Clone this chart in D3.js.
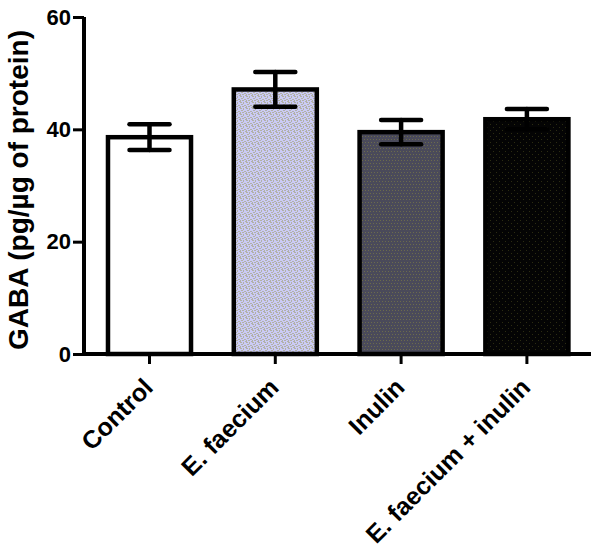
<!DOCTYPE html>
<html>
<head>
  <meta charset="utf-8">
  <script src="https://cdn.jsdelivr.net/npm/d3@7"></script>
  <style>
    body { margin: 0; background: #ffffff; }
    svg { display: block; }
    text { font-family: Arial, "Liberation Sans", sans-serif; font-weight: bold; fill: #000; }
  </style>
</head>
<body>
  <script>
    // Data
    const groups = ["Control", "E. faecium", "Inulin", "E. faecium + inulin"];
    const means = [38.6, 47.1, 39.5, 41.8];
    const errors = [2.3, 3.1, 2.15, 1.8];
    const yTicks = [0, 20, 40, 60];
    const yTitle = "GABA (pg/\u00b5g of protein)";

    const w = 600;
    const h = 560;

    const svg = d3.select("body")
      .append("svg")
      .attr("width", w)
      .attr("height", h);

    // Patterns for the bar fills
    const defs = svg.append("defs");

    function checker(id, base, dot, cells) {
      const p = defs.append("pattern")
        .attr("id", id)
        .attr("patternUnits", "userSpaceOnUse")
        .attr("width", 6)
        .attr("height", 6);
      p.append("rect").attr("width", 6).attr("height", 6).attr("fill", base);
      cells.forEach(function (c) {
        p.append("rect")
          .attr("x", c[0]).attr("y", c[1])
          .attr("width", c[2]).attr("height", c[3])
          .attr("fill", dot);
      });
    }

    checker("pat1", "#cbcbf5", "#b1b1a6",
      [[0, 0, 2, 1], [3, 0, 1, 2], [1, 2, 2, 1], [4, 3, 2, 1], [0, 4, 1, 2], [2, 4, 2, 1], [5, 5, 1, 1]]);
    checker("pat2", "#4a4a5a", "#6b6b4c",
      [[1, 1, 1, 1], [4, 1, 1, 1], [2, 4, 1, 1], [5, 4, 1, 1]]);
    checker("pat3", "#040404", "#2c2c12",
      [[1, 1, 1, 1], [4, 4, 1, 1]]);

    const fills = ["#ffffff", "url(#pat1)", "url(#pat2)", "url(#pat3)"];

    // Scales
    const xScale = d3.scaleBand()
      .domain(groups)
      .range([86.6, 589.8])
      .paddingInner(0.34)
      .paddingOuter(0.17);

    const yScale = d3.scaleLinear()
      .domain([0, 60])
      .range([354, 17]);

    const data = groups.map(function (g, i) {
      return { group: g, mean: means[i], err: errors[i], fill: fills[i] };
    });

    // Bars
    svg.selectAll("rect.bar")
      .data(data)
      .enter()
      .append("rect")
      .attr("class", "bar")
      .attr("x", function (d) { return xScale(d.group); })
      .attr("y", function (d) { return yScale(d.mean); })
      .attr("width", xScale.bandwidth())
      .attr("height", function (d) { return yScale(0) - yScale(d.mean); })
      .attr("fill", function (d) { return d.fill; })
      .attr("stroke", "#000")
      .attr("stroke-width", 4.5);

    // Error bars
    const capHalf = 20;
    const eb = svg.selectAll("g.err")
      .data(data)
      .enter()
      .append("g")
      .attr("class", "err")
      .attr("stroke", "#000")
      .attr("stroke-width", 4.5)
      .attr("stroke-linecap", "round");

    eb.append("line")
      .attr("x1", function (d) { return xScale(d.group) + xScale.bandwidth() / 2; })
      .attr("x2", function (d) { return xScale(d.group) + xScale.bandwidth() / 2; })
      .attr("y1", function (d) { return yScale(d.mean + d.err); })
      .attr("y2", function (d) { return yScale(d.mean - d.err); });

    eb.append("line")
      .attr("x1", function (d) { return xScale(d.group) + xScale.bandwidth() / 2 - capHalf; })
      .attr("x2", function (d) { return xScale(d.group) + xScale.bandwidth() / 2 + capHalf; })
      .attr("y1", function (d) { return yScale(d.mean + d.err); })
      .attr("y2", function (d) { return yScale(d.mean + d.err); });

    eb.append("line")
      .attr("x1", function (d) { return xScale(d.group) + xScale.bandwidth() / 2 - capHalf; })
      .attr("x2", function (d) { return xScale(d.group) + xScale.bandwidth() / 2 + capHalf; })
      .attr("y1", function (d) { return yScale(d.mean - d.err); })
      .attr("y2", function (d) { return yScale(d.mean - d.err); });

    // Y axis
    const yAxis = d3.axisLeft(yScale)
      .tickValues(yTicks)
      .tickSize(11)
      .tickPadding(2);

    const gy = svg.append("g")
      .attr("transform", "translate(84,0)")
      .call(yAxis);
    gy.select(".domain").attr("stroke-width", 4).attr("d", "M0," + yScale(60) + "V" + yScale(0));
    gy.selectAll(".tick line").attr("stroke-width", 3);
    gy.selectAll(".tick text")
      .attr("font-size", "22px")
      .attr("font-family", "Arial, 'Liberation Sans', sans-serif")
      .attr("font-weight", "bold");

    // X axis
    const xAxis = d3.axisBottom(xScale)
      .tickSize(10)
      .tickFormat("");

    const gx = svg.append("g")
      .attr("transform", "translate(0," + yScale(0) + ")")
      .call(xAxis);
    gx.select(".domain").attr("stroke-width", 4).attr("d", "M82,0H591");
    gx.selectAll(".tick line").attr("stroke-width", 3);

    // Category labels, rotated
    svg.selectAll("text.cat")
      .data(groups)
      .enter()
      .append("text")
      .attr("class", "cat")
      .attr("text-anchor", "end")
      .attr("font-size", "25px")
      .attr("transform", function (d) {
        const cx = xScale(d) + xScale.bandwidth() / 2;
        return "translate(" + (cx + 5) + ",389) rotate(-45)";
      })
      .text(function (d) { return d; });

    // Y axis title
    svg.append("text")
      .attr("text-anchor", "middle")
      .attr("font-size", "28px")
      .attr("transform", "translate(28,190) rotate(-90)")
      .text(yTitle);
  </script>
</body>
</html>
